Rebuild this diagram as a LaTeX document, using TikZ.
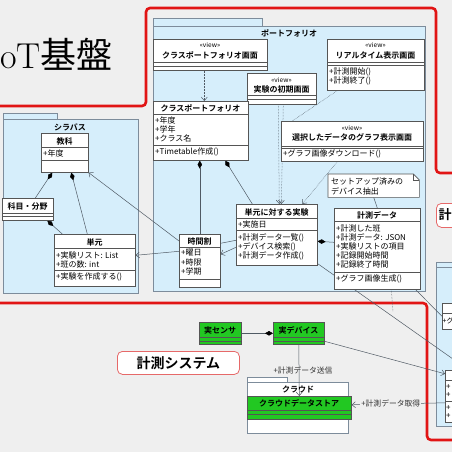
\documentclass[tikz,border=0pt]{standalone}
\usepackage{fontspec}
\newfontfamily\jp{Noto Sans CJK JP}[BoldFont={Noto Sans CJK JP Bold}]
\usetikzlibrary{arrows.meta}
\definecolor{bggray}{RGB}{239,239,239}
\definecolor{pkgblue}{RGB}{214,238,251}
\definecolor{pkgline}{RGB}{125,140,155}
\definecolor{clsline}{RGB}{85,85,85}
\definecolor{hwgreen}{RGB}{34,200,34}
\definecolor{framered}{RGB}{225,20,20}
\definecolor{tagred}{RGB}{230,105,105}
\definecolor{linkgray}{RGB}{80,90,100}
\pgfdeclarelayer{back}
\pgfdeclarelayer{links}
\pgfsetlayers{back,links,main}
\tikzset{
  pkg/.style={draw=pkgline, fill=pkgblue, line width=0.6pt},
  cls/.style={draw=clsline, fill=white, line width=0.6pt, inner sep=0pt, anchor=north west},
  hwcls/.style={cls, fill=hwgreen},
  clsname/.style={font=\jp\bfseries\fontsize{8}{9}\selectfont, inner sep=0pt},
  member/.style={font=\jp\fontsize{8}{9}\selectfont, inner sep=0pt, anchor=west},
  stereo/.style={font=\jp\fontsize{6.5}{7}\selectfont, inner sep=0pt},
  lbl/.style={font=\jp\fontsize{7.8}{9}\selectfont, text=black!80, inner sep=1pt},
  divider/.style={draw=clsline, line width=0.6pt},
  link/.style={draw=linkgray, line width=0.5pt},
  dep/.style={link, densely dotted},
  open/.style={-{Straight Barb[length=3.5pt,width=6pt]}},
  comp/.style={{Diamond[length=8pt,width=4.5pt,color=black]}-},
  frame/.style={draw=framered, line width=2.6pt, rounded corners=4pt},
  tag/.style={draw=tagred, fill=white, line width=0.8pt, rounded corners=5pt, inner sep=0pt, anchor=north west},
}

\begin{document}
\begin{tikzpicture}[x=1pt,y=-1pt]
\useasboundingbox (0,0) rectangle (452,452);
\begin{pgfonlayer}{back}
\fill[bggray] (0,0) rectangle (452,452);
\draw[frame] (-5,106) -- (146,106) -- (146,8) -- (436,8) -- (436,173) -- (470,173);
\draw[frame] (-5,303) -- (427,303) -- (427,440) -- (470,440);
\draw[pkg] (153,18) rectangle (262,26);
\draw[pkg] (153,26) rectangle (425,291);
\draw[pkg] (3,113) rectangle (57,119);
\draw[pkg] (3,119) rectangle (138,293);
\draw[pkg] (436,262) rectangle (490,267);
\draw[pkg] (436,267) rectangle (490,426);
\draw[pkg, fill=white] (247,377) rectangle (287,382);
\draw[pkg, fill=white] (247,382) rectangle (348,433);
\end{pgfonlayer}

\node[anchor=base west, inner sep=0pt, font=\fontsize{36}{40}\selectfont] (title) at (0,69) {oT{\jp 基盤}};

\node[clsname] (portfolioname) at (289,33) {ポートフォリオ};
\node[clsname] (syllabusname) at (70,127) {シラバス};
\node[clsname] (cloudname) at (298,389) {クラウド};

\node[cls, minimum width=114pt, minimum height=31pt] (cpfview) at (153,39) {};
\node[stereo] (cpfviewst) at (210,45) {«view»};
\node[clsname] (cpfviewname) at (210,55) {クラスポートフォリオ画面};
\draw[divider] (153,62) -- (267,62);
\draw[divider] (153,66) -- (267,66);

\node[cls, minimum width=69pt, minimum height=31pt] (initview) at (247,73) {};
\node[stereo] (initviewst) at (281.5,80) {«view»};
\node[clsname] (initviewname) at (281.5,89) {実験の初期画面};
\draw[divider] (247,95) -- (316,95);
\draw[divider] (247,99) -- (316,99);

\node[cls, minimum width=97pt, minimum height=51pt] (rtview) at (327,39) {};
\node[stereo] (rtviewst) at (375.5,45) {«view»};
\node[clsname] (rtviewname) at (375.5,55) {リアルタイム表示画面};
\draw[divider] (327,62) -- (424,62);
\draw[divider] (327,65) -- (424,65);
\node[member] (rtop1) at (329,72) {+計測開始()};
\node[member] (rtop2) at (329,81) {+計測終了()};

\node[cls, minimum width=95pt, minimum height=59pt] (cpf) at (153,101) {};
\node[clsname] (cpfname) at (200.5,108) {クラスポートフォリオ};
\draw[divider] (153,114) -- (248,114);
\node[member] (cpfat1) at (155,120) {+年度};
\node[member] (cpfat2) at (155,129) {+学年};
\node[member] (cpfat3) at (155,138) {+クラス名};
\draw[divider] (153,145) -- (248,145);
\node[member] (cpfop1) at (155,152) {+Timetable作成()};

\node[cls, minimum width=142pt, minimum height=40pt] (graphview) at (281,121) {};
\node[stereo] (graphviewst) at (352,128) {«view»};
\node[clsname] (graphviewname) at (352,137) {選択したデータのグラフ表示画面};
\draw[divider] (281,146) -- (423,146);
\draw[divider] (281,148) -- (423,148);
\node[member] (graphop1) at (283,154) {+グラフ画像ダウンロード()};

\node[inner sep=0pt, minimum width=91pt, minimum height=23pt, anchor=north west] (setupnote) at (328,174) {};
\draw[divider, fill=white] (setupnote.north west) -- ([xshift=-6pt]setupnote.north east) -- ([yshift=-6pt]setupnote.north east) -- (setupnote.south east) -- (setupnote.south west) -- cycle;
\draw[divider] ([xshift=-6pt]setupnote.north east) -- ([xshift=-6pt,yshift=-6pt]setupnote.north east) -- ([yshift=-6pt]setupnote.north east);
\node[member] (setupline1) at (331,181) {セットアップ済みの};
\node[member] (setupline2) at (331,191) {デバイス抽出};

\node[cls, minimum width=81pt, minimum height=61pt] (jikken) at (236,204) {};
\node[clsname] (jikkenname) at (276.5,212) {単元に対する実験};
\draw[divider] (236,218) -- (317,218);
\node[member] (jikkenat1) at (238,224) {+実施日};
\draw[divider] (236,230) -- (317,230);
\node[member] (jikkenop1) at (238,238) {+計測データ一覧()};
\node[member] (jikkenop2) at (238,247) {+デバイス検索()};
\node[member] (jikkenop3) at (238,256) {+計測データ作成()};

\node[cls, minimum width=86pt, minimum height=81pt] (sokutei) at (334,208) {};
\node[clsname] (sokuteiname) at (377,215) {計測データ};
\draw[divider] (334,221) -- (420,221);
\node[member] (sokuteiat1) at (336,228) {+計測した班};
\node[member] (sokuteiat2) at (336,237) {+計測データ: JSON};
\node[member] (sokuteiat3) at (336,246) {+実験リストの項目};
\node[member] (sokuteiat4) at (336,255) {+記録開始時間};
\node[member] (sokuteiat5) at (336,264) {+記録終了時間};
\draw[divider] (334,272) -- (420,272);
\node[member] (sokuteiop1) at (336,279) {+グラフ画像生成()};

\node[cls, minimum width=41pt, minimum height=53pt] (jikanwari) at (179,234) {};
\node[clsname] (jikanwariname) at (199.5,241) {時間割};
\draw[divider] (179,247) -- (220,247);
\node[member] (jikanwariat1) at (181,253) {+曜日};
\node[member] (jikanwariat2) at (181,262) {+時限};
\node[member] (jikanwariat3) at (181,271) {+学期};
\draw[divider] (179,279) -- (220,279);

\node[cls, minimum width=47pt, minimum height=39pt] (kyouka) at (41,133) {};
\node[clsname] (kyoukaname) at (64.5,141) {教科};
\draw[divider] (41,147) -- (88,147);
\node[member] (kyoukaat1) at (43,153) {+年度};
\draw[divider] (41,160) -- (88,160);

\node[cls, minimum width=51pt, minimum height=22pt] (kamoku) at (2,198) {};
\node[clsname] (kamokuname) at (27.5,206) {科目・分野};
\draw[divider] (2,213) -- (53,213);
\draw[divider] (2,216.5) -- (53,216.5);

\node[cls, minimum width=81pt, minimum height=52pt] (tangen) at (54,234) {};
\node[clsname] (tangenname) at (94.5,242) {単元};
\draw[divider] (54,248.5) -- (135,248.5);
\node[member] (tangenat1) at (56,255) {+実験リスト: List};
\node[member] (tangenat2) at (56,264) {+班の数: int};
\draw[divider] (54,270.5) -- (135,270.5);
\node[member] (tangenop1) at (56,277) {+実験を作成する()};

\node[cls, minimum width=40pt, minimum height=26pt] (rbox1) at (442,303) {};
\draw[divider] (442,313) -- (482,313);
\node[member, font=\jp\fontsize{7}{8}\selectfont] (rbox1op) at (442.5,321) {+グ};

\node[cls, minimum width=37pt, minimum height=52pt] (rbox2) at (445,370) {};
\draw[divider] (445,380) -- (482,380);
\node[member] (rbox2at1) at (446,387) {+};
\node[member] (rbox2at2) at (446,395) {+};
\draw[divider] (445,401) -- (482,401);
\node[member] (rbox2op1) at (446,408) {+};
\node[member] (rbox2op2) at (446,416) {+};

\node[hwcls, minimum width=42pt, minimum height=22pt] (sensor) at (199,322) {};
\node[clsname] (sensorname) at (220,330) {実センサ};
\draw[divider] (199,337) -- (241,337);
\draw[divider] (199,341) -- (241,341);

\node[hwcls, minimum width=51pt, minimum height=22pt] (device) at (273,322) {};
\node[clsname] (devicename) at (298.5,330) {実デバイス};
\draw[divider] (273,337) -- (324,337);
\draw[divider] (273,341) -- (324,341);

\node[hwcls, minimum width=104pt, minimum height=23pt] (store) at (247,396) {};
\node[clsname] (storename) at (299,403) {クラウドデータストア};
\draw[divider] (247,410) -- (351,410);
\draw[divider] (247,414) -- (351,414);

\node[tag, minimum width=122pt, minimum height=23pt, font=\jp\bfseries\fontsize{14}{16}\selectfont] (syslabel) at (117,351) {計測システム};
\node[tag, minimum width=50pt, minimum height=24pt] (keilabel) at (436,203) {};
\node[anchor=west, inner sep=0pt, font=\jp\bfseries\fontsize{13}{15}\selectfont] (keitext) at (438.5,215) {計};

\coordinate (farright) at (470,371);
\coordinate (dotend) at (393,312);

\begin{pgfonlayer}{links}
\draw[dep, open] ([xshift=-6pt]cpfview.south) -- ([xshift=3.5pt]cpf.north);
\draw[dep, open] ([xshift=-3.5pt]initview.south) -- ([xshift=2.5pt]jikken.north);
\draw[dep, open] ([xshift=1.5pt]initview.south) -- ([xshift=4.5pt]jikken.north);
\draw[dep] ([xshift=-38.5pt]rtview.south) -- ([xshift=-60pt]graphview.north);
\draw[dep, open] ([xshift=-15pt]graphview.south) -- ([xshift=25.5pt]jikken.north);
\draw[link] (setupnote.south) -- (sokutei.north);
\draw[link, comp] (jikanwari.north |- cpf.south) -- (jikanwari.north);
\draw[link, comp] ([xshift=24.5pt]cpf.south) -- ([xshift=-24.5pt]jikken.north);
\draw[link, open] ([yshift=9.5pt]jikanwari.west) -- ([yshift=5pt]tangen.east);
\draw[link, open] ([yshift=-7pt]jikanwari.north west) -- (kyouka.south east);
\draw[link] ([yshift=-5.5pt]jikken.west) -- ([yshift=17.5pt]jikanwari.east);
\draw[link, open] ([yshift=-12.5pt]jikken.west) -- ([yshift=6.5pt]jikanwari.east);
\draw[link, comp] ([yshift=-6.5pt]jikken.east) -- ([yshift=6.5pt]sokutei.west);
\draw[link] ([yshift=2pt]jikken.south east) -- (farright);
\draw[dep] ([xshift=14pt]sokutei.south) -- (dotend);
\draw[link] ([xshift=-5pt]sokutei.south east) -- (rbox1.west);
\draw[link, comp] ([xshift=-12.5pt]kyouka.south) -- ([xshift=7.5pt]kamoku.north);
\draw[link, comp] ([xshift=6.5pt]kyouka.south) -- ([xshift=-7.5pt]tangen.north);
\draw[link, comp] ([xshift=19.5pt]kamoku.south) -- ([xshift=-32.5pt]tangen.north);
\draw[link, comp] (device.west) -- (sensor.east);
\draw[link, open] (device.south) -- node[lbl, xshift=4pt] (sendlabel) {+計測データ送信} (store.north);
\draw[link, open] ([yshift=-8pt]device.east) -- ([yshift=22.5pt]rbox2.west);
\draw[link, open] ([yshift=-6.5pt]rbox2.west) -- node[lbl, fill=bggray, pos=0.58] (getlabel) {+計測データ取得} ([yshift=3pt]store.east);
\end{pgfonlayer}
\end{tikzpicture}
\end{document}
